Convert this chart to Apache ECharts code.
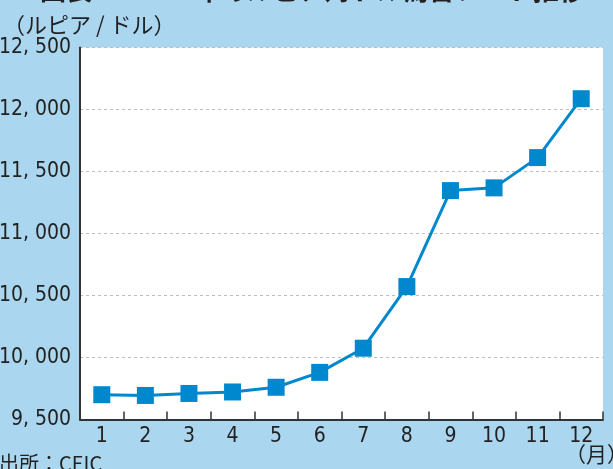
<!DOCTYPE html>
<html>
<head>
<meta charset="utf-8">
<script src="https://cdn.jsdelivr.net/npm/echarts@6/dist/echarts.min.js"></script>
<style>
html,body{margin:0;padding:0;background:#aad6f0;}
#c{width:613px;height:469px;}
</style>
</head>
<body>
<div id="c"></div>
<script>
const months = ['1','2','3','4','5','6','7','8','9','10','11','12'];
const rate = [9700, 9694, 9710, 9722, 9760, 9880, 10075, 10572, 11346, 11368, 11612, 12087];
const yTicks = [9500, 10000, 10500, 11000, 11500, 12000, 12500];
const titleText = '図表1　2013年のルピア対ドル為替レート推移';
const unitY = '（ルピア / ドル）';
const unitX = '（月）';
const sourceText = '出所：CEIC';

const NUM_FONT = '"Liberation Sans Narrow","DejaVu Sans Condensed","Noto Sans",sans-serif';
const JP_FONT = '"Noto Sans CJK JP",sans-serif';

const chart = echarts.init(document.getElementById('c'), null, {renderer:'canvas'});
chart.setOption({
  backgroundColor: '#aad6f0',
  animation: false,
  grid: {
    left: 80, right: 10, top: 47.5, bottom: 49.5,
    show: true, backgroundColor: '#ffffff', borderWidth: 0,
    outerBoundsMode: 'none'
  },
  xAxis: {
    type: 'category',
    data: months,
    boundaryGap: true,
    axisLine: {show: true, lineStyle: {color: '#333', width: 2}},
    axisTick: {show: true, inside: true, length: 8, alignWithLabel: false, lineStyle: {color: '#333', width: 1.5}},
    axisLabel: {color: '#222', fontSize: 21, fontFamily: NUM_FONT, margin: 7}
  },
  yAxis: {
    type: 'value',
    min: yTicks[0], max: yTicks[yTicks.length - 1], interval: 500,
    axisLine: {show: true, lineStyle: {color: '#333', width: 2}},
    axisTick: {show: false},
    splitLine: {show: true, lineStyle: {color: '#bdbdbd', type: [3, 3], width: 1}},
    axisLabel: {
      color: '#222', fontSize: 21, fontFamily: NUM_FONT, margin: 9,
      formatter: v => { const s = String(v); return s.slice(0, s.length - 3) + ', ' + s.slice(-3); }
    }
  },
  series: [{
    type: 'line',
    data: rate,
    symbol: 'rect',
    symbolSize: 17,
    lineStyle: {color: '#0088cf', width: 3},
    itemStyle: {color: '#0088cf'},
    z: 3
  }],
  graphic: [
    {type: 'text', left: 40, top: -23, style: {text: titleText, font: 'bold 26px ' + JP_FONT, fill: '#222'}},
    {type: 'text', left: 3, top: 14, style: {text: unitY, font: '22px ' + JP_FONT, fill: '#222'}},
    {type: 'text', left: 565, top: 444, style: {text: unitX, font: '21px ' + JP_FONT, fill: '#222'}},
    {type: 'text', left: -1, top: 453, style: {text: sourceText, font: '20px ' + JP_FONT, fill: '#222'}}
  ]
});
</script>
</body>
</html>
